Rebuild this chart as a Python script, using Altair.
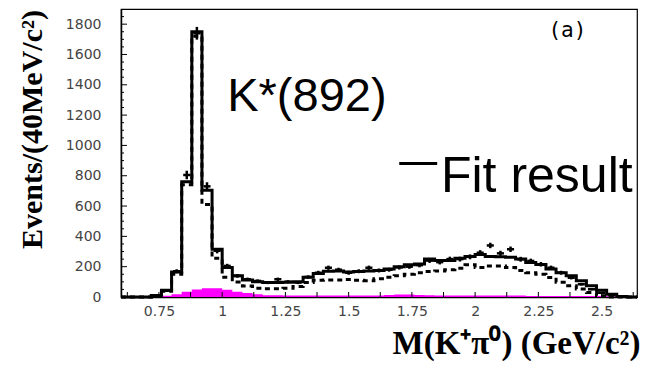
import altair as alt
import pandas as pd

# ---- binning of the histogram (40 MeV bins) ----
BIN_LO = 0.60
BIN_W = 0.04

# ---- values (one value per bin, 51 bins 0.60-2.64) ----
fit_result = [0, 0, 0, 10, 45, 165, 760, 1750, 705, 315,
              195, 140, 112, 100, 95, 95, 98, 100, 130, 155,
              170, 172, 165, 168, 172, 175, 185, 200, 212, 218,
              250, 240, 240, 255, 268, 280, 268, 265, 262, 250,
              228, 215, 185, 160, 140, 108, 75, 45, 18, 4,
              0]
dashed_component = [0, 0, 0, 8, 38, 150, 740, 1720, 610, 255,
                    130, 99, 73, 58, 55, 55, 58, 70, 95, 110,
                    112, 112, 115, 110, 108, 120, 130, 140, 150, 160,
                    168, 172, 180, 190, 212, 195, 205, 205, 195, 175,
                    160, 150, 128, 98, 75, 52, 30, 8, 0, 0,
                    0]
data_counts = [0, 0, 0, 8, 42, 170, 805, 1740, 730, 305,
               205, 139, 117, 106, 95, 117, 101, 95, 132, 160,
               193, 180, 160, 170, 193, 175, 180, 195, 200, 210,
               240, 230, 250, 250, 265, 292, 340, 288, 315, 249,
               238, 216, 193, 160, 127, 84, 51, 28, 13, 3,
               0]
data_errors = [0, 0, 0, 3, 7, 13, 28, 42, 27, 17,
               14, 12, 11, 10, 10, 11, 10, 10, 11, 13,
               14, 13, 13, 13, 14, 13, 13, 14, 14, 14,
               15, 15, 16, 16, 16, 17, 18, 17, 18, 16,
               15, 15, 14, 13, 11, 9, 7, 5, 4, 2,
               0]
background = [0, 0, 0, 3, 8, 18, 35, 50, 58, 58,
              48, 35, 26, 18, 12, 11, 10, 10, 10, 10,
              10, 10, 10, 10, 10, 10, 14, 16, 16, 14,
              12, 10, 10, 10, 10, 10, 10, 10, 10, 10,
              6, 6, 6, 6, 6, 6, 6, 6, 3, 0,
              0]

y_tick_labels = [0, 200, 400, 600, 800, 1000, 1200, 1400, 1600, 1800]
y_minor_ticks = list(range(0, 1900, 50))
x_tick_labels = [0.75, 1, 1.25, 1.5, 1.75, 2, 2.25, 2.5]
x_minor_ticks = [0.625, 0.75, 0.875, 1.0, 1.125, 1.25, 1.375, 1.5, 1.625, 1.75,
                 1.875, 2.0, 2.125, 2.25, 2.375, 2.5, 2.625]

n = len(fit_result)
edges = [round(BIN_LO + i * BIN_W, 4) for i in range(n + 1)]
hist = pd.DataFrame({
    "x": edges,
    "fit": fit_result + [fit_result[-1]],
    "dash": dashed_component + [dashed_component[-1]],
    "bg": background + [background[-1]],
})
pts = pd.DataFrame({
    "c": [round(BIN_LO + (i + 0.5) * BIN_W, 4) for i in range(n)],
    "v": data_counts,
    "e": data_errors,
})
pts = pts[pts.v > 0].copy()
pts["lo"] = pts.v - pts.e
pts["hi"] = pts.v + pts.e
pts["xl"] = pts.c - 0.014
pts["xr"] = pts.c + 0.014

xs = alt.Scale(domain=[0.60, 2.64], nice=False, zero=False)
ys = alt.Scale(domain=[0, 1900], nice=False, zero=False)

label_font = "DejaVu Sans"
x_axis = alt.Axis(values=x_tick_labels, format=".3~g", ticks=False, grid=False,
                  domain=True, domainColor="black", domainWidth=1.5,
                  labelFont=label_font, labelFontSize=14, labelColor="#444",
                  labelPadding=7,
                  title="M(K⁺π⁰) (GeV/c²)", titleFont="Liberation Serif",
                  titleFontSize=33, titleFontWeight="bold", titleColor="black",
                  titleAnchor="end", titleAlign="right", titleBaseline="alphabetic",
                  titleX=519, titleY=56)
y_axis = alt.Axis(values=y_tick_labels, format="d", ticks=False, grid=False,
                  domain=True, domainColor="black", domainWidth=1.5,
                  labelFont=label_font, labelFontSize=14, labelColor="#444",
                  labelPadding=20,
                  title="Events/(40MeV/c²)", titleFont="Liberation Serif",
                  titleFontSize=30, titleFontWeight="bold", titleColor="black",
                  titleAngle=-90, titleAlign="center", titleBaseline="middle",
                  titleX=-89, titleY=120)


def X(field):
    return alt.X(field, type="quantitative", scale=xs, axis=x_axis)


def Y(field):
    return alt.Y(field, type="quantitative", scale=ys, axis=y_axis)


bg_area = alt.Chart(hist).mark_area(interpolate="step-after", color="#ff00ff").encode(
    x=X("x"), y=Y("bg"))
dash_line = alt.Chart(hist).mark_line(interpolate="step-after", color="black",
                                      strokeWidth=3, strokeDash=[5, 4]).encode(
    x=X("x"), y=Y("dash"))
fit_line = alt.Chart(hist).mark_line(interpolate="step-after", color="black",
                                     strokeWidth=3).encode(
    x=X("x"), y=Y("fit"))
err_v = alt.Chart(pts).mark_rule(color="black", strokeWidth=2.5).encode(
    x=X("c"), y=Y("lo"), y2="hi")
err_h = alt.Chart(pts).mark_rule(color="black", strokeWidth=2.5).encode(
    x=X("xl"), x2="xr", y=Y("v"))

ytk = pd.DataFrame({"v": y_minor_ticks})
ytk["major"] = ytk.v % 200 == 0
ymin = alt.Chart(ytk[~ytk.major]).mark_rule(color="black", strokeWidth=1).encode(
    y=Y("v"), x=alt.value(0), x2=alt.value(3))
ymaj = alt.Chart(ytk[ytk.major]).mark_rule(color="black", strokeWidth=1).encode(
    y=Y("v"), x=alt.value(0), x2=alt.value(6))
xtk = pd.DataFrame({"v": x_minor_ticks})
xmaj = alt.Chart(xtk).mark_rule(color="black", strokeWidth=1).encode(
    x=X("v"), y=alt.value(288), y2=alt.value(283))

ann = pd.DataFrame({
    "x": [1.02, 1.865],
    "y": [1225, 693],
    "t": ["K*(892)", "Fit result"],
})
ann_k = alt.Chart(ann.iloc[[0]]).mark_text(align="left", baseline="alphabetic",
                                           font="Liberation Sans", fontSize=47,
                                           color="black").encode(
    x=X("x"), y=Y("y"), text="t:N")
ann_f = alt.Chart(ann.iloc[[1]]).mark_text(align="left", baseline="alphabetic",
                                           font="Liberation Sans", fontSize=50,
                                           color="black").encode(
    x=X("x"), y=Y("y"), text="t:N")
leg = pd.DataFrame({"x": [1.70], "x2": [1.85], "y": [880]})
leg_line = alt.Chart(leg).mark_rule(color="black", strokeWidth=3).encode(
    x=X("x"), x2="x2", y=Y("y"))
lab = pd.DataFrame({"x": [2.365], "y": [1755], "t": ["(a)"]})
lab_text = alt.Chart(lab).mark_text(align="center", baseline="middle",
                                    font="DejaVu Sans Mono", fontSize=21,
                                    color="black").encode(
    x=X("x"), y=Y("y"), text="t:N")

chart = alt.layer(
    bg_area, dash_line, fit_line, err_v, err_h, ymin, ymaj, xmaj,
    ann_k, ann_f, leg_line, lab_text,
).properties(
    width=516, height=288,
    autosize=alt.AutoSizeParams(type="none"),
    padding={"left": 121, "top": 9, "right": 16, "bottom": 71},
    background="white",
).configure_view(stroke="black", strokeWidth=1.2)

chart.save("out.html", embed_options={"renderer": "svg", "actions": False})
